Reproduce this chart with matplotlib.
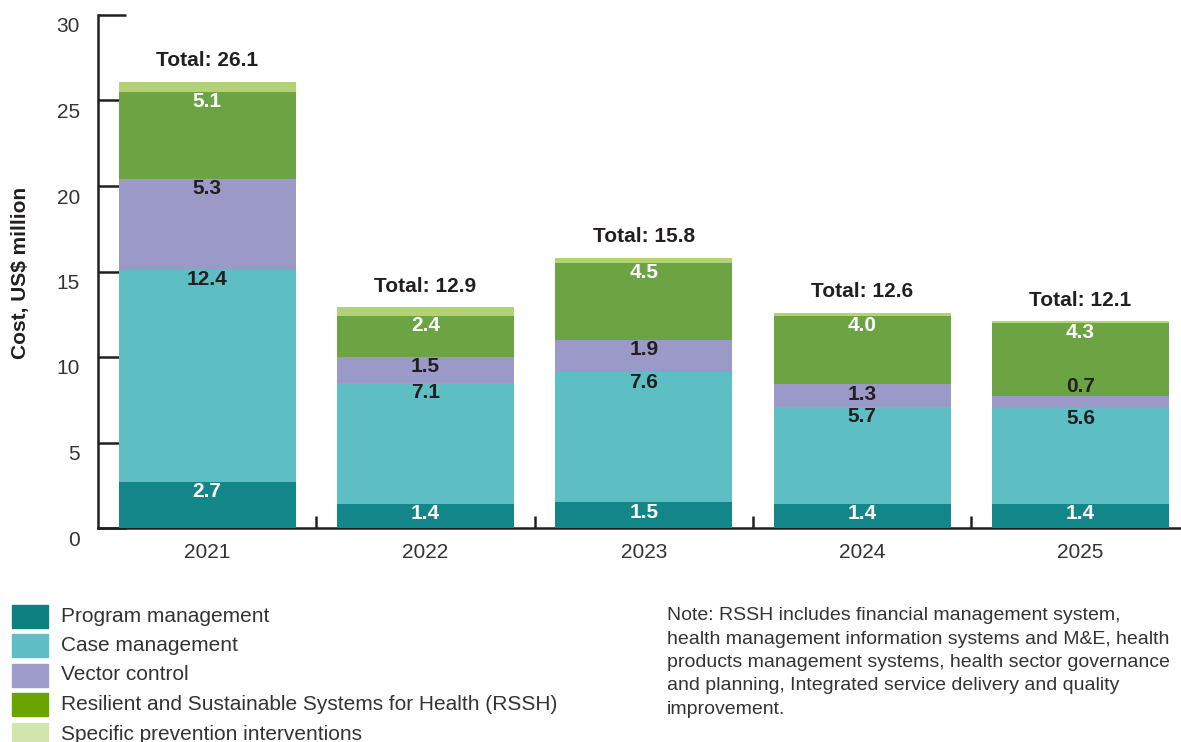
import matplotlib.pyplot as plt
import matplotlib.transforms as mtransforms
from matplotlib.patches import Rectangle
import numpy as np

plt.rcParams['font.family'] = ['Liberation Sans', 'DejaVu Sans']

years = ['2021', '2022', '2023', '2024', '2025']
program = [2.7, 1.4, 1.5, 1.4, 1.4]
case = [12.4, 7.1, 7.6, 5.7, 5.6]
vector = [5.3, 1.5, 1.9, 1.3, 0.7]
rssh = [5.1, 2.4, 4.5, 4.0, 4.3]
prevention = [0.6, 0.5, 0.3, 0.2, 0.1]
totals = [26.1, 12.9, 15.8, 12.6, 12.1]

series_names = ['Program management', 'Case management', 'Vector control',
                'Resilient and Sustainable Systems for Health (RSSH)',
                'Specific prevention interventions']
bar_colors = ['#13868a', '#5dbfc3', '#9b99c7', '#6ca443', '#b2d273']
legend_colors = ['#0e8080', '#5ebfc5', '#9e9cc9', '#6aa400', '#d4e6b0']
label_colors = ['white', '#231f20', '#231f20', 'white', None]

note = ("Note: RSSH includes financial management system,\n"
        "health management information systems and M&E, health\n"
        "products management systems, health sector governance\n"
        "and planning, Integrated service delivery and quality\n"
        "improvement.")

dark = '#231f20'
fig = plt.figure(figsize=(11.81, 7.42), dpi=100)
ax = fig.add_axes([98 / 1181, 1 - 528 / 742, 1 - 98 / 1181, (528 - 15) / 742])

x = np.arange(len(years))
stack = [program, case, vector, rssh, prevention]
bottom = np.zeros(len(years))
for vals, col, lcol in zip(stack, bar_colors, label_colors):
    vals = np.array(vals)
    ax.bar(x, vals, 0.81, bottom=bottom, color=col, zorder=3)
    top = bottom + vals
    if lcol is not None:
        for xi, t, v in zip(x, top, vals):
            # small segments get their label just above
            dy = 7 if v < 1 else -7
            ax.annotate(f'{v:.1f}', (xi, t), xytext=(0, dy), textcoords='offset points',
                        ha='center', va='center', fontsize=15, fontweight='bold',
                        color=lcol, zorder=4)
    bottom = top

for xi, t in zip(x, totals):
    ax.annotate(f'Total: {t:.1f}', (xi, t), xytext=(0, 15), textcoords='offset points',
                ha='center', va='center', fontsize=15, fontweight='bold', color=dark)

ax.set_xlim(-0.5, 4.46)
ax.set_ylim(0, 30)
ax.set_yticks(range(0, 31, 5))
ax.set_xticks(x)
ax.set_xticklabels(years)
ax.set_xticks(x[:-1] + 0.5, minor=True)

for s in ['top', 'right']:
    ax.spines[s].set_visible(False)
for s in ['left', 'bottom']:
    ax.spines[s].set_linewidth(1.8)
    ax.spines[s].set_color(dark)

ax.tick_params(axis='y', direction='in', length=20, width=1.8, color=dark,
               pad=13, labelsize=15, labelcolor='#333333')
ax.tick_params(axis='x', which='major', length=0, pad=11, labelsize=15,
               labelcolor='#333333')
ax.tick_params(axis='x', which='minor', direction='in', length=9, width=1.8, color=dark)

offset = mtransforms.ScaledTranslation(0, -10 / 100, fig.dpi_scale_trans)
for lab in ax.get_yticklabels():
    lab.set_transform(lab.get_transform() + offset)

fig.text(21 / 1181, 1 - 273 / 742, 'Cost, US$ million', rotation=90, fontsize=15,
         fontweight='bold', color=dark, ha='center', va='center')

# legend
for i, (name, col) in enumerate(zip(series_names, legend_colors)):
    cy = 616 + i * 29.5
    fig.patches.append(Rectangle((12 / 1181, 1 - (cy + 11.5) / 742), 36 / 1181, 23 / 742,
                                 transform=fig.transFigure, color=col))
    fig.text(61 / 1181, 1 - cy / 742, name, fontsize=15, color='#333333', va='center')

fig.text(667 / 1181, 1 - 607 / 742, note, fontsize=14, color='#333333', va='top',
         linespacing=1.5)

fig.savefig('out.png', dpi=100)
